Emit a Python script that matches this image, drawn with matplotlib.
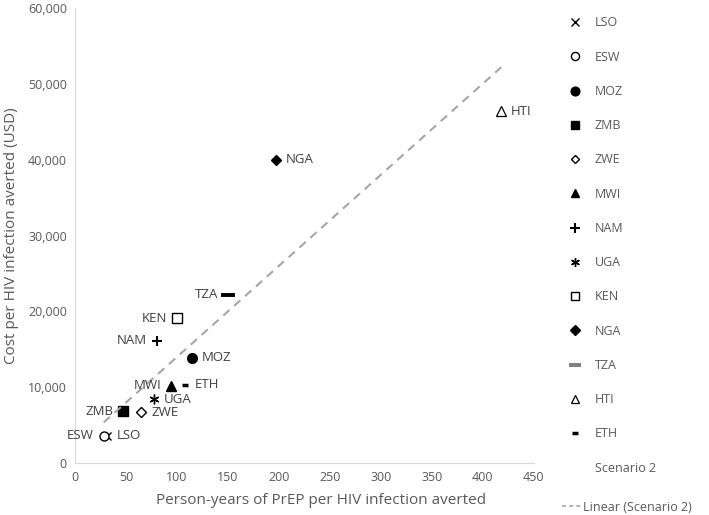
import numpy as np
import matplotlib.pyplot as plt
from matplotlib.lines import Line2D

plt.rcParams['font.family'] = ['Open Sans', 'DejaVu Sans']

# data
countries = ['LSO', 'ESW', 'MOZ', 'ZMB', 'ZWE', 'MWI', 'NAM', 'UGA', 'KEN', 'NGA', 'TZA', 'HTI', 'ETH']
person_years = [31, 28, 115, 47, 65, 94, 80, 77, 100, 197, 150, 418, 108]
cost_usd = [3600, 3600, 13900, 6800, 6700, 10200, 16100, 8400, 19100, 40000, 22200, 46400, 10300]
label_side = ['r', 'l', 'r', 'l', 'r', 'l', 'l', 'r', 'l', 'r', 'l', 'r', 'r']

# marker, filled, size, edge width
styles = {
    'LSO': ('x', False, 6, 1.0),
    'ESW': ('o', False, 6.5, 1.0),
    'MOZ': ('o', True, 7, 1.0),
    'ZMB': ('s', True, 6.5, 1.0),
    'ZWE': ('D', False, 5, 1.0),
    'MWI': ('^', True, 7, 1.0),
    'NAM': ('+', False, 7.5, 1.5),
    'UGA': ((6, 2, 0), False, 7, 1.0),
    'KEN': ('s', False, 6.5, 1.0),
    'NGA': ('D', True, 5.5, 1.0),
    'TZA': ('_', False, 10, 2.8),
    'HTI': ('^', False, 7, 0.9),
    'ETH': ('_', False, 4.5, 2.5),
}

text_col = '#595959'
fig = plt.figure(figsize=(7.09, 5.15), dpi=100)
ax = fig.add_axes([0.106, 0.101, 0.647, 0.883])

handles = []
for c, x, y, side in zip(countries, person_years, cost_usd, label_side):
    m, filled, ms, mew = styles[c]
    h, = ax.plot([x], [y], linestyle='none', marker=m, markersize=ms,
                 markeredgewidth=mew, color='black',
                 markerfacecolor='black' if filled else 'white', label=c)
    handles.append(h)
    off = 7 if side == 'r' else -7
    ax.annotate(c, (x, y), xytext=(off, 0), textcoords='offset points',
                ha='left' if side == 'r' else 'right', va='center',
                fontsize=9.5, color='#404040')

# linear trendline (Scenario 2)
k, b = np.polyfit(person_years, cost_usd, 1)
xs = np.array([min(person_years), max(person_years)])
trend, = ax.plot(xs, k * xs + b, linestyle=(0, (4, 3)), color='#a6a6a6',
                 linewidth=1.5, label='Linear (Scenario 2)')

ax.set_xlim(0, 450)
ax.set_ylim(0, 60000)
ax.set_xticks(np.arange(0, 451, 50))
ax.set_yticks(np.arange(0, 60001, 10000))
ax.set_yticklabels([f'{v:,}' for v in range(0, 60001, 10000)])
ax.tick_params(length=0, labelsize=9, labelcolor=text_col, pad=6)
for s in ['top', 'right']:
    ax.spines[s].set_visible(False)
for s in ['left', 'bottom']:
    ax.spines[s].set_color('#d9d9d9')
ax.set_xlabel('Person-years of PrEP per HIV infection averted', fontsize=11, color=text_col)
ax.xaxis.set_label_coords(0.536, -0.065)
ax.set_ylabel('Cost per HIV infection averted (USD)', fontsize=11, color=text_col, labelpad=6)

blank = Line2D([], [], linestyle='none', marker=None, label='Scenario 2')
leg = fig.legend(handles=handles + [blank], loc='upper left',
                 bbox_to_anchor=(0.800, 0.968), frameon=False, fontsize=9,
                 labelspacing=1.70, handlelength=1.2, handletextpad=1.0,
                 borderaxespad=0, borderpad=0, markerscale=0.9)
for t in leg.get_texts():
    t.set_color(text_col)
leg.legend_handles[countries.index('TZA')].set_color('#7f7f7f')

leg2 = fig.legend(handles=[trend], loc='center left',
                  bbox_to_anchor=(0.793, 0.0155), frameon=False, fontsize=9,
                  handlelength=1.4, handletextpad=0.25,
                  borderaxespad=0, borderpad=0)
for t in leg2.get_texts():
    t.set_color(text_col)
leg2.legend_handles[0].set_linestyle((0, (2.5, 1.8)))
leg2.legend_handles[0].set_linewidth(1.2)

fig.savefig('out.png', dpi=100)
